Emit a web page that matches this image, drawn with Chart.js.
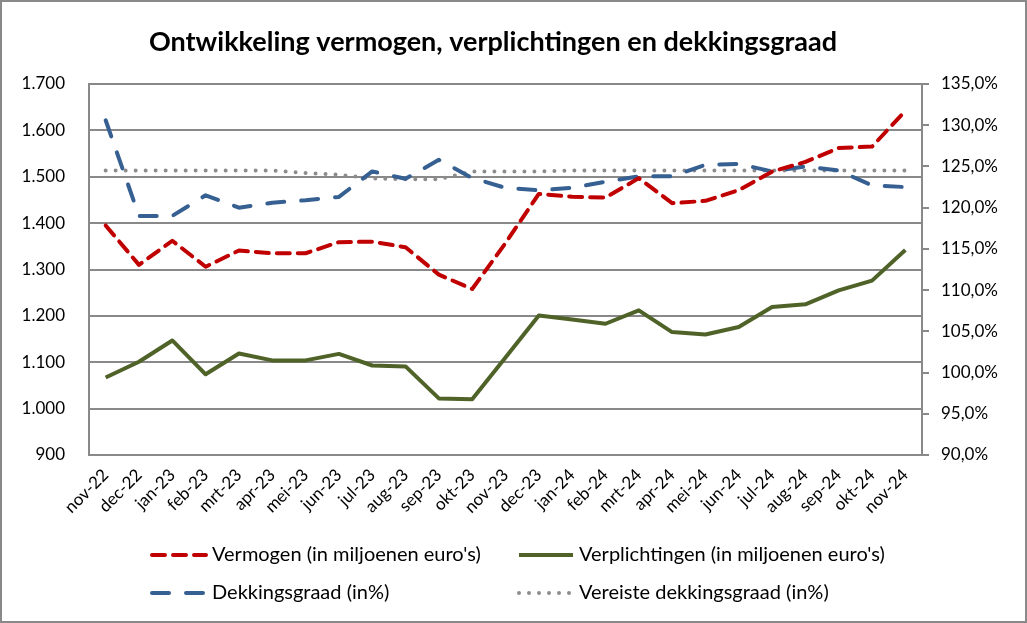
<!DOCTYPE html>
<html>
<head>
<meta charset="utf-8">
<script src="https://cdn.jsdelivr.net/npm/chart.js@4.4.1/dist/chart.umd.min.js"></script>
<style>
    body { margin: 0; background: #fff; }
    #wrap { width: 1027px; height: 623px; }
</style>
</head>
<body>
<div id="wrap"><canvas id="chart" width="1027" height="623"></canvas></div>
<script>
// data
var months = ['nov-22', 'dec-22', 'jan-23', 'feb-23', 'mrt-23', 'apr-23', 'mei-23', 'jun-23', 'jul-23', 'aug-23', 'sep-23', 'okt-23',
    'nov-23', 'dec-23', 'jan-24', 'feb-24', 'mrt-24', 'apr-24', 'mei-24', 'jun-24', 'jul-24', 'aug-24', 'sep-24', 'okt-24', 'nov-24'];
var vermogen = [1395, 1310, 1362, 1306, 1341, 1335, 1335, 1359, 1360, 1348, 1289, 1258,
    1357, 1463, 1457, 1455, 1497, 1443, 1448, 1471, 1511, 1532, 1562, 1565, 1642];
var verplichtingen = [1067, 1101, 1147, 1074, 1119, 1104, 1104, 1118, 1093, 1091, 1022, 1020,
    1110, 1201, 1192, 1183, 1212, 1165, 1160, 1176, 1219, 1225, 1255, 1276, 1342];
var dekkingsgraad = [130.6, 119.0, 119.0, 121.5, 120.0, 120.6, 120.9, 121.3, 124.4, 123.5, 125.8, 123.6,
    122.4, 122.1, 122.4, 123.15, 123.8, 123.8, 125.2, 125.3, 124.4, 125.0, 124.5, 122.7, 122.5];
var vereisteDekking = [124.5, 124.5, 124.5, 124.5, 124.5, 124.5, 124.2, 124.0, 123.55, 123.45, 123.45, 124.4,
    124.4, 124.4, 124.5, 124.5, 124.5, 124.5, 124.5, 124.5, 124.5, 124.5, 124.5, 124.5, 124.5];
var leftTicks = [900, 1700, 100];   // min, max, step
var rightTicks = [90, 135, 5];

var FONT = "Lato, 'Open Sans', sans-serif";
var GRID = '#898989';

var series = [
    { label: "Vermogen (in miljoenen euro's)", data: vermogen, color: '#C00000', dash: [13, 8], axis: 'y' },
    { label: "Verplichtingen (in miljoenen euro's)", data: verplichtingen, color: '#4F6228', dash: [], axis: 'y' },
    { label: 'Dekkingsgraad (in%)', data: dekkingsgraad, color: '#376092', dash: [17, 17], axis: 'y1' },
    { label: 'Vereiste dekkingsgraad (in%)', data: vereisteDekking, color: '#8C8C8C', dash: [0, 10], axis: 'y1' }
];

function formatThousands(v) {
    if (v >= 1000) {
        return Math.floor(v / 1000) + '.' + String(v % 1000).padStart(3, '0');
    }
    return String(v);
}

function formatPct(v) {
    return v.toFixed(1).replace('.', ',') + '%';
}

var decorations = {
    id: 'decorations',
    beforeDraw: function (chart) {
        var ctx = chart.ctx;
        ctx.save();
        ctx.fillStyle = '#fff';
        ctx.fillRect(0, 0, chart.width, chart.height);
        ctx.restore();
    },
    afterDraw: function (chart) {
        var ctx = chart.ctx;
        ctx.save();
        // outer frame
        ctx.strokeStyle = GRID;
        ctx.lineWidth = 2;
        ctx.strokeRect(1, 1, chart.width - 2, chart.height - 2);

        // title
        ctx.fillStyle = '#000';
        ctx.font = 'bold 27px ' + FONT;
        ctx.textAlign = 'center';
        ctx.textBaseline = 'middle';
        ctx.fillText('Ontwikkeling vermogen, verplichtingen en dekkingsgraad', 493, 42);

        // legend, two columns
        var spots = [[150, 555], [517, 555], [150, 593], [517, 593]];
        ctx.font = '20px ' + FONT;
        ctx.textAlign = 'left';
        for (var i = 0; i < series.length; i++) {
            var s = series[i];
            var x = spots[i][0], y = spots[i][1];
            ctx.beginPath();
            ctx.strokeStyle = s.color;
            ctx.lineWidth = 4;
            ctx.lineCap = s.dash.length ? 'round' : 'butt';
            ctx.setLineDash(s.dash);
            ctx.moveTo(x + 2, y);
            ctx.lineTo(x + 56, y);
            ctx.stroke();
            ctx.setLineDash([]);
            ctx.fillStyle = '#000';
            ctx.fillText(s.label, x + 62, y);
        }
        ctx.restore();
    }
};

var datasets = series.map(function (s) {
    return {
        label: s.label,
        data: s.data,
        yAxisID: s.axis,
        borderColor: s.color,
        backgroundColor: s.color,
        borderWidth: 4,
        borderDash: s.dash,
        borderCapStyle: s.dash.length ? 'round' : 'butt',
        borderJoinStyle: 'round',
        pointRadius: 0,
        pointHoverRadius: 0,
        tension: 0,
        fill: false
    };
});

new Chart(document.getElementById('chart'), {
    type: 'line',
    data: { labels: months, datasets: datasets },
    plugins: [decorations],
    options: {
        responsive: false,
        animation: false,
        events: [],
        layout: { padding: { top: 84, left: 0, right: 0, bottom: 0 } },
        plugins: {
            legend: { display: false },
            title: { display: false },
            tooltip: { enabled: false }
        },
        scales: {
            x: {
                offset: true,
                grid: { display: false },
                border: { display: true, color: GRID, width: 2 },
                ticks: {
                    color: '#000',
                    font: { family: FONT, size: 17 },
                    minRotation: 45,
                    maxRotation: 45,
                    autoSkip: false,
                    padding: 2
                },
                afterFit: function (scale) { scale.height = 623 - 455; }
            },
            y: {
                position: 'left',
                min: leftTicks[0],
                max: leftTicks[1],
                grid: { color: GRID, lineWidth: 2, drawTicks: false },
                border: { display: true, color: GRID, width: 2 },
                ticks: {
                    stepSize: leftTicks[2],
                    color: '#000',
                    font: { family: FONT, size: 17 },
                    padding: 24,
                    callback: function (v) { return formatThousands(v); }
                },
                afterFit: function (scale) { scale.width = 89; }
            },
            y1: {
                position: 'right',
                min: rightTicks[0],
                max: rightTicks[1],
                grid: { drawOnChartArea: false, color: GRID, lineWidth: 2, tickLength: 7 },
                border: { display: true, color: GRID, width: 2 },
                ticks: {
                    stepSize: rightTicks[2],
                    color: '#000',
                    font: { family: FONT, size: 17 },
                    padding: 12,
                    callback: function (v) { return formatPct(v); }
                },
                afterFit: function (scale) { scale.width = 1027 - 922; }
            }
        }
    }
});
</script>
</body>
</html>
